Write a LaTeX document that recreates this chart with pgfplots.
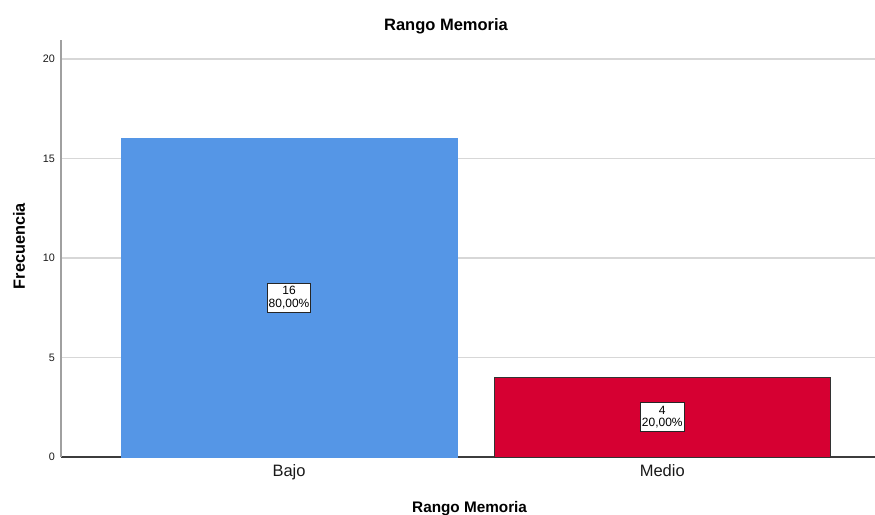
\documentclass[border=0pt]{standalone}
\usepackage{pgfplots}
\pgfplotsset{compat=1.18}
\usepackage{fontspec}
\setmainfont{Liberation Sans}
\definecolor{barblue}{RGB}{85,150,230}
\definecolor{barred}{RGB}{214,0,50}
\definecolor{gridgray}{RGB}{215,215,215}
\definecolor{yaxisgray}{RGB}{160,160,160}
\definecolor{xaxisdark}{RGB}{60,60,60}
\begin{document}
\begin{tikzpicture}
\path[use as bounding box] (0,0) rectangle (875bp,515bp);
\begin{axis}[
  at={(61bp,58bp)}, anchor=south west,
  scale only axis, width=814bp, height=417bp,
  xmin=-0.611, xmax=1.57,
  ymin=0, ymax=20.95,
  axis x line=bottom, axis y line=left,
  x axis line style={-, draw=xaxisdark, line width=1.2bp},
  y axis line style={-, draw=yaxisgray, line width=1.5bp},
  xtick={0,1}, xticklabels={Bajo,Medio},
  ytick={0,5,10,15,20},
  major tick length=0pt,
  ymajorgrids, grid style={draw=gridgray, line width=1.4bp},
  /pgf/number format/assume math mode=true,
  yticklabel style={anchor=east, inner sep=0pt, xshift=-6bp, font=\fontsize{10.8bp}{12bp}\selectfont, text=black!90},
  xticklabel style={anchor=north, inner sep=0pt, yshift=-7bp, font=\fontsize{16.5bp}{18bp}\selectfont, text=black!90},
  title={Rango Memoria},
  every axis title/.style={at={(axis description cs:0.473,1)}, anchor=base, yshift=9.3bp, inner sep=0pt, font=\bfseries\fontsize{16.5bp}{18bp}\selectfont},
  xlabel={Rango Memoria},
  xlabel style={at={(axis description cs:0.502,0)}, anchor=base, yshift=-55bp, inner sep=0pt, font=\bfseries\fontsize{15.3bp}{17bp}\selectfont},
  ylabel={Frecuencia},
  ylabel style={at={([xshift=-36bp]axis description cs:0,0.506)}, rotate=0, anchor=base, inner sep=0pt, font=\bfseries\fontsize{16.3bp}{18bp}\selectfont},
  clip=false,
]
\addplot[ybar, bar width=336bp, bar shift=0pt, fill=barblue, draw=barblue, line width=0.5bp] coordinates {(0,16)};
\addplot[ybar, bar width=336bp, bar shift=0pt, fill=barred, draw=black!80, line width=1bp] coordinates {(1,4)};
\addplot[draw=none, mark=none, nodes near coords, point meta=explicit symbolic,
  nodes near coords style={anchor=center, draw=black!85, fill=white, align=center, text=black,
    font=\fontsize{12bp}{12.8bp}\selectfont, inner xsep=1.5bp, inner ysep=3bp, line width=0.9bp}]
  coordinates {(0,8) [{16\\80,00\%}] (1,2) [{4\\20,00\%}]};
\end{axis}
\end{tikzpicture}
\end{document}
